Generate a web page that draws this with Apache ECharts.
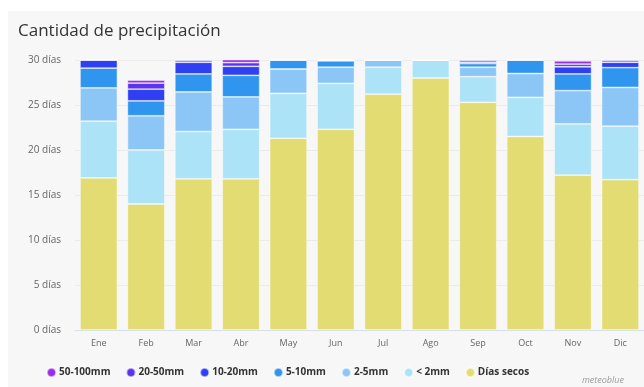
<!DOCTYPE html>
<html>
<head>
<meta charset="utf-8">
<script src="https://cdn.jsdelivr.net/npm/echarts@6/dist/echarts.min.js"></script>
<style>
  html, body { margin: 0; padding: 0; background: #ffffff; }
  #chart { width: 644px; height: 387px; }
</style>
</head>
<body>
<div id="chart"></div>
<script>
// Monthly distribution of days by precipitation amount
const months = ['Ene', 'Feb', 'Mar', 'Abr', 'May', 'Jun', 'Jul', 'Ago', 'Sep', 'Oct', 'Nov', 'Dic'];
const yTicks = [0, 5, 10, 15, 20, 25, 30];

const diasSecos = [16.9, 14.0, 16.8, 16.8, 21.3, 22.3, 26.2, 28.0, 25.3, 21.5, 17.2, 16.7];
const menos2mm  = [6.3, 6.0, 5.25, 5.5, 5.0, 5.1, 3.0, 2.0, 2.85, 4.35, 5.7, 5.95];
const mm2a5     = [3.7, 3.8, 4.4, 3.6, 2.7, 1.8, 0.8, 0, 1.05, 2.65, 3.7, 4.3];
const mm5a10    = [2.2, 1.66, 2.0, 2.4, 1.0, 0.7, 0, 0, 0.4, 1.5, 1.85, 2.2];
const mm10a20   = [0.9, 1.3, 1.3, 1.0, 0, 0.1, 0, 0, 0.15, 0, 0.8, 0.6];
const mm20a50   = [0, 0.67, 0.25, 0.4, 0, 0, 0, 0, 0.25, 0, 0.3, 0.25];
const mm50a100  = [0, 0.33, 0, 0.35, 0, 0, 0, 0, 0, 0, 0.35, 0];

const seriesDefs = [
  { name: 'Días secos', data: diasSecos, color: '#e2dc72' },
  { name: '< 2mm',      data: menos2mm,  color: '#ade3f6' },
  { name: '2-5mm',      data: mm2a5,     color: '#8cc6f7' },
  { name: '5-10mm',     data: mm5a10,    color: '#2f95ee' },
  { name: '10-20mm',    data: mm10a20,   color: '#2f3ff2' },
  { name: '20-50mm',    data: mm20a50,   color: '#5a35ee' },
  { name: '50-100mm',   data: mm50a100,  color: '#9a2cee' }
];

const chart = echarts.init(document.getElementById('chart'), null, { renderer: 'canvas' });

const font = '"Open Sans", "Noto Sans", sans-serif';

chart.setOption({
  animation: false,
  backgroundColor: '#ffffff',
  textStyle: { fontFamily: font },
  graphic: [
    {
      type: 'rect',
      z: -10,
      silent: true,
      shape: { x: 8, y: 11, width: 700, height: 400 },
      style: { fill: '#f7f7f7' }
    },
    {
      type: 'text',
      left: 18,
      top: 23,
      style: {
        text: 'Cantidad de precipitación',
        font: '17px ' + font,
        fill: '#333333'
      }
    },
    {
      type: 'text',
      left: 582,
      top: 376,
      style: {
        text: 'meteoblue',
        font: 'italic 9px ' + font,
        fill: '#9a9a9a'
      }
    }
  ],
  legend: {
    data: seriesDefs.map(s => s.name).reverse(),
    left: 41,
    top: 362,
    icon: 'circle',
    itemWidth: 9,
    itemHeight: 9,
    itemGap: 15,
    textStyle: { fontSize: 10, fontWeight: 'bold', color: '#333333', fontFamily: font, padding: [0, 0, 0, -2] }
  },
  grid: { left: 75, top: 60, width: 581, height: 270, containLabel: false },
  xAxis: {
    type: 'category',
    data: months,
    axisLine: { lineStyle: { color: '#d8dfea' } },
    axisTick: { show: false },
    axisLabel: { color: '#666666', fontSize: 9, margin: 9 }
  },
  yAxis: {
    type: 'value',
    min: yTicks[0],
    max: yTicks[yTicks.length - 1],
    interval: 5,
    axisLine: { show: false },
    axisTick: { show: false },
    splitLine: { lineStyle: { color: '#ebebeb' } },
    axisLabel: { color: '#666666', fontSize: 10, margin: 14, formatter: v => v + ' días' }
  },
  series: seriesDefs.map(s => ({
    name: s.name,
    type: 'bar',
    stack: 'dias',
    data: s.data,
    barWidth: '79%',
    itemStyle: { color: s.color, borderColor: 'rgba(255,255,255,0.55)', borderWidth: 0.8 },
    emphasis: { disabled: true }
  }))
});
</script>
</body>
</html>
